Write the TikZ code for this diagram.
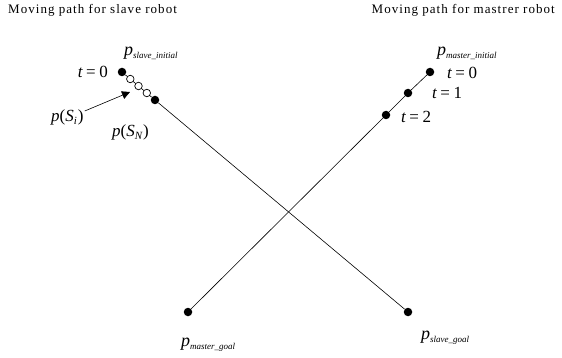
\documentclass[tikz,border=0pt]{standalone}
\usepackage{fontspec}
\setmainfont{Liberation Serif}
\usetikzlibrary{arrows.meta}
\newcommand\bigp{{\fontsize{18}{18}\selectfont\itshape p}}
\newcommand\subtx[1]{\raisebox{-3pt}{\fontsize{9}{9}\selectfont\itshape #1}}
\newcommand\teq[1]{{\itshape t}\hspace{3.5pt}=\hspace{3.5pt}#1}
\newcommand\pS[1]{{\itshape p}(\textit{S}\raisebox{-3pt}{\fontsize{11}{11}\selectfont\itshape #1}\hspace{1pt})}
\begin{document}
\begin{tikzpicture}[x=1pt,y=-1pt,
  dot/.style={circle,fill=black,inner sep=0pt,minimum size=8.5pt},
  odot/.style={circle,draw=black,fill=white,inner sep=0pt,minimum size=7.5pt,line width=0.7pt},
  lbl/.style={inner sep=0pt,font=\fontsize{17}{19}\selectfont},
  ttl/.style={inner sep=0pt,font=\fontsize{13}{15}\selectfont\addfontfeature{LetterSpace=8}},
  path/.style={line width=0.6pt}]
\useasboundingbox (0,0) rectangle (562,358);
% titles
\node[ttl,anchor=west] (tl) at (8,10) {Moving path for slave robot};
\node[ttl,anchor=east] (tr) at (555,10) {Moving path for mastrer robot};
% slave path
\node[dot] (s0) at (122,72) {};
\node[dot] (sn) at (155,100) {};
\node[dot] (sg) at (408,312) {};
\draw[path] (s0) -- (sn);
\draw[path] (sn) -- (sg);
\node[odot] (c1) at (130.3,79) {};
\node[odot] (c2) at (138.5,86) {};
\node[odot] (c3) at (146.8,93) {};
% master path
\node[dot] (m0) at (430,72) {};
\node[dot] (m1) at (408,93) {};
\node[dot] (m2) at (386,115) {};
\node[dot] (mg) at (188,312) {};
\draw[path] (m0) -- (m1) -- (m2) -- (mg);
% labels
\node[lbl,anchor=west] (psi) at (124,53) {\bigp\subtx{slave\_initial}};
\node[lbl,anchor=east] (t0s) at (108,72) {\teq{0}};
\node[lbl,anchor=west] (pSi) at (51,117) {\pS{i}};
\node[lbl,anchor=west] (pSN) at (112,132) {\pS{N}};
\node[lbl,anchor=west] (psg) at (421,338) {\bigp\subtx{slave\_goal}};
\node[lbl,anchor=west] (pmi) at (437,53) {\bigp\subtx{master\_initial}};
\node[lbl,anchor=west] (t0m) at (447,73) {\teq{0}};
\node[lbl,anchor=west] (t1m) at (432,93) {\teq{1}};
\node[lbl,anchor=west] (t2m) at (401,117) {\teq{2}};
\node[lbl,anchor=west] (pmg) at (181,345) {\bigp\subtx{master\_goal}};
\coordinate (atip) at (130,92);
\draw[path,-{Triangle[length=8pt,width=8pt]}] (pSi.east) ++(1,-6) -- (atip);
\end{tikzpicture}
\end{document}
